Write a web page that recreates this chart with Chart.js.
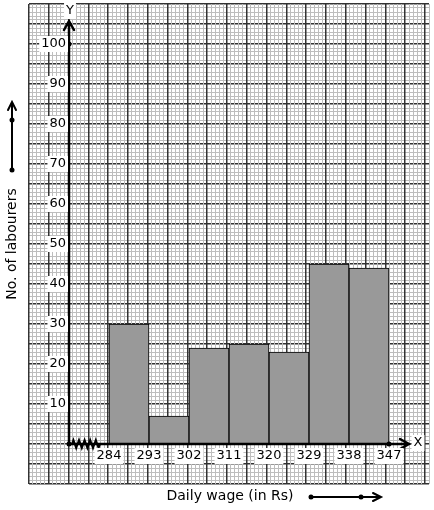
<!DOCTYPE html>
<html>
<head>
<meta charset="utf-8">
<script src="https://cdn.jsdelivr.net/npm/chart.js@4"></script>
<style>
  body{margin:0;background:#fff;}
  canvas{display:block;}
</style>
</head>
<body>
<canvas id="myChart" width="434" height="510"></canvas>
<script>
// class intervals (Rs) and no. of labourers
var classStarts = [284, 293, 302, 311, 320, 329, 338]
var classWidth = 9
var labourers = [30, 7, 24, 25, 23, 45, 44]
var xTickLabels = ['284', '293', '302', '311', '320', '329', '338', '347']
var yTickLabels = ['10', '20', '30', '40', '50', '60', '70', '80', '90', '100']

var barPoints = []
for (var i = 0; i < classStarts.length; i++) {
  barPoints.push({x: classStarts[i] + classWidth / 2, y: labourers[i]})
}

var darkLine = '#333333'
var lightLine = '#bdbdbd'

const labelFont = '13px "DejaVu Sans"'
const titleFont = '14px "DejaVu Sans"'

// text with a white box behind it
const boxText = (ctx, txt, x, y, align) => {
  ctx.font = labelFont
  var w = ctx.measureText(txt).width
  var left = align === 'right' ? x - w : (align === 'center' ? x - w / 2 : x)
  ctx.fillStyle = '#fff'
  ctx.fillRect(left - 2, y - 8, w + 4, 16)
  ctx.fillStyle = '#000'
  ctx.textAlign = align
  ctx.textBaseline = 'middle'
  ctx.fillText(txt, x, y)
}

const dot = (ctx, x, y) => {
  ctx.beginPath()
  ctx.arc(x, y, 2.5, 0, Math.PI * 2)
  ctx.fillStyle = '#000'
  ctx.fill()
}

const axesPlugin = {
  id: 'axesPlugin',
  afterDatasetsDraw(chart) {
    var ctx = chart.ctx
    var xs = chart.scales.x
    var ys = chart.scales.y
    var ox = xs.getPixelForValue(classStarts[0] - classWidth)
    var oy = ys.getPixelForValue(0)
    var endX = xs.getPixelForValue(351.5)
    var topY = 21
    ctx.save()
    ctx.strokeStyle = '#000'
    ctx.lineWidth = 2.5
    ctx.lineCap = 'round'
    // y axis + arrow
    ctx.beginPath()
    ctx.moveTo(ox, oy)
    ctx.lineTo(ox, topY)
    ctx.moveTo(ox - 5, topY + 9)
    ctx.lineTo(ox, topY)
    ctx.lineTo(ox + 5, topY + 9)
    ctx.stroke()
    // x axis + arrow
    ctx.beginPath()
    ctx.moveTo(ox, oy)
    ctx.lineTo(endX, oy)
    ctx.moveTo(endX - 9, oy - 5)
    ctx.lineTo(endX, oy)
    ctx.lineTo(endX - 9, oy + 5)
    ctx.stroke()
    // kink (broken axis)
    ctx.lineWidth = 2
    ctx.beginPath()
    ctx.moveTo(ox + 3, oy)
    var zx = ox + 3
    for (var k = 0; k < 5; k++) {
      ctx.lineTo(zx + 1.4, oy - 4)
      ctx.lineTo(zx + 4.2, oy + 4)
      ctx.lineTo(zx + 5.6, oy)
      zx += 5.6
    }
    ctx.stroke()
    dot(ctx, ox, oy)
    dot(ctx, xs.getPixelForValue(347), oy)
    dot(ctx, ox, ys.getPixelForValue(100))

    // tick labels
    for (var i = 0; i < yTickLabels.length; i++) {
      boxText(ctx, yTickLabels[i], ox - 3, ys.getPixelForValue(Number(yTickLabels[i])), 'right')
    }
    for (var j = 0; j < xTickLabels.length; j++) {
      boxText(ctx, xTickLabels[j], xs.getPixelForValue(Number(xTickLabels[j])), oy + 12, 'center')
    }
    boxText(ctx, 'Y', ox + 1, 11, 'center')
    boxText(ctx, 'X', endX + 9, oy - 1, 'center')

    // axis titles
    ctx.fillStyle = '#000'
    ctx.font = titleFont
    ctx.textAlign = 'center'
    ctx.textBaseline = 'middle'
    ctx.fillText('Daily wage (in Rs)', 230, 496)
    ctx.save()
    ctx.translate(12, 244)
    ctx.rotate(-Math.PI / 2)
    ctx.fillText('No. of labourers', 0, 0)
    ctx.restore()

    // scale arrows beside the titles
    ctx.lineWidth = 2
    ctx.beginPath()
    ctx.moveTo(12, 170)
    ctx.lineTo(12, 102)
    ctx.moveTo(8, 110)
    ctx.lineTo(12, 102)
    ctx.lineTo(16, 110)
    ctx.moveTo(311, 497)
    ctx.lineTo(381, 497)
    ctx.moveTo(373, 493)
    ctx.lineTo(381, 497)
    ctx.lineTo(373, 501)
    ctx.stroke()
    dot(ctx, 12, 170)
    dot(ctx, 12, 120)
    dot(ctx, 311, 497)
    dot(ctx, 361, 497)
    ctx.restore()
  }
}

const config = {
  type: 'bar',
  data: {
    datasets: [{
      label: 'No. of labourers',
      data: barPoints,
      backgroundColor: '#999999',
      borderColor: '#000',
      borderWidth: 1,
      borderSkipped: 'start',
      barPercentage: 1,
      categoryPercentage: 1
    }]
  },
  options: {
    responsive: false,
    animation: false,
    devicePixelRatio: 1,
    layout: {padding: {left: 29, top: 4, right: 5, bottom: 26}},
    plugins: {legend: {display: false}, tooltip: {enabled: false}},
    scales: {
      x: {
        type: 'linear',
        display: false,
        offset: false,
        min: 266,
        max: 356,
        ticks: {stepSize: 9}
      },
      // graph paper, vertical lines every 4px
      gx: {
        type: 'linear',
        position: 'bottom',
        min: 0,
        max: 100,
        ticks: {stepSize: 1, display: false, autoSkip: false},
        grid: {
          drawTicks: false,
          z: -1,
          color: (c) => c.tick && c.tick.value % 5 === 0 ? darkLine : lightLine,
          lineWidth: (c) => c.tick && c.tick.value % 5 === 0 ? 1.5 : 1
        },
        border: {display: false}
      },
      y: {
        type: 'linear',
        min: -10,
        max: 110,
        ticks: {stepSize: 1, display: false, autoSkip: false},
        grid: {
          drawTicks: false,
          z: -2,
          color: (c) => c.tick && c.tick.value % 5 === 0 ? darkLine : lightLine,
          lineWidth: (c) => c.tick && c.tick.value % 5 === 0 ? 1.5 : 1
        },
        border: {display: false}
      }
    }
  },
  plugins: [axesPlugin]
}

var myChart = new Chart('myChart', config)
</script>
</body>
</html>
